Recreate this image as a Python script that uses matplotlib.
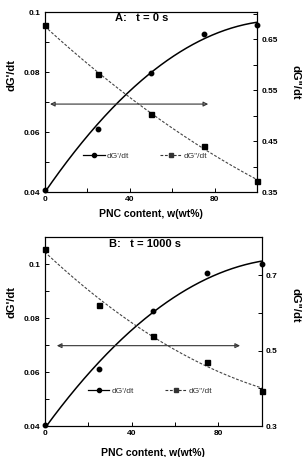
import numpy as np
import matplotlib
matplotlib.use('Agg')
import matplotlib.pyplot as plt

plt.rcParams['font.family'] = ['Liberation Sans', 'DejaVu Sans']

# PNC content (wt%)
w = [0, 25, 50, 75, 100]

# Panel A: t = 0 s
a_dGp = [0.0408, 0.0611, 0.0798, 0.0929, 0.0958]
a_dGpp = [0.678, 0.581, 0.504, 0.4415, 0.372]

# Panel B: t = 1000 s
b_dGp = [0.0404, 0.0610, 0.0826, 0.0969, 0.1000]
b_dGpp = [0.769, 0.621, 0.539, 0.470, 0.394]

xticks = [0, 40, 80]
xlabel = 'PNC content, w(wt%)'


def panel(rect, title, gp, gpp, ylim_l, yt_l, ytl_l, ymin_l,
          ylim_r, yt_r, ytl_r, ymin_r, arrow, leg_pos, title_pos,
          lab_l, lab_r, xpad):
    ax = fig.add_axes(rect)
    ax2 = ax.twinx()

    # quadratic trend lines through the points
    xs = np.linspace(0, 100, 200)
    c1 = np.polyfit(w, gp, 2)
    c2 = np.polyfit(w, gpp, 2)
    ax.plot(xs, np.polyval(c1, xs), color='black', lw=1.1)
    ax.plot(w, gp, 'o', color='black', ms=3.2, clip_on=False)
    ax2.plot(xs, np.polyval(c2, xs), color='#444444', lw=0.8,
             ls=(0, (2.5, 1.5)))
    ax2.plot(w, gpp, 's', color='black', ms=3.6, clip_on=False)

    # double-headed arrow
    ax.annotate('', xy=(arrow[0], arrow[2]), xytext=(arrow[1], arrow[2]),
                arrowprops=dict(arrowstyle='<|-|>', color='#333333', lw=0.8,
                                mutation_scale=7, shrinkA=0, shrinkB=0,
                                fill=False))

    # legend-like handles
    h1, = ax.plot([], [], '-o', color='black', lw=0.9, ms=3)
    h2, = ax.plot([], [], ls=(0, (2.5, 1.5)), marker='s', color='#333333',
                  lw=0.8, ms=3.4)
    leg = ax.legend([h1, h2], ["dG'/dt", 'dG"/dt'], loc='center',
                    bbox_to_anchor=leg_pos, ncol=2, frameon=False,
                    fontsize=6, handlelength=2.6, columnspacing=3.8,
                    handletextpad=0.2)
    for t in leg.get_texts():
        t.set_color('#333333')

    ax.set_xlim(0, 100)
    ax.set_xticks(xticks)
    ax.set_xticks([20, 60, 100], minor=True)
    ax.set_xticklabels([str(t) for t in xticks], fontsize=6, fontweight='bold')

    ax.set_ylim(*ylim_l)
    ax.set_yticks(yt_l)
    ax.set_yticklabels(ytl_l, fontsize=6, fontweight='bold')
    ax.set_yticks(ymin_l, minor=True)

    ax2.set_ylim(*ylim_r)
    ax2.set_yticks(yt_r)
    ax2.set_yticklabels(ytl_r, fontsize=6, fontweight='bold')
    ax2.set_yticks(ymin_r, minor=True)

    for a in (ax, ax2):
        a.tick_params(which='both', direction='in', length=3, width=0.7, pad=3)
        for s in a.spines.values():
            s.set_linewidth(0.8)

    ax.set_ylabel("dG'/dt", fontsize=8, fontweight='bold')
    ax.yaxis.set_label_coords(*lab_l)
    ax2.set_ylabel('dG"/dt', fontsize=8, fontweight='bold', rotation=270,
                   va='center')
    ax2.yaxis.set_label_coords(*lab_r)
    ax.set_xlabel(xlabel, fontsize=7.5, fontweight='bold', labelpad=xpad)
    ax.text(title_pos[0], title_pos[1], title, transform=ax.transAxes,
            ha='center', va='center', fontsize=8, fontweight='bold')


fig = plt.figure(figsize=(3.05, 4.57), dpi=100)

panel([0.1466, 0.5792, 0.696, 0.394], 'A:   t = 0 s', a_dGp, a_dGpp,
      (0.04, 0.1), [0.04, 0.06, 0.08, 0.1], ['0.04', '0.06', '0.08', '0.1'],
      [0.05, 0.07, 0.09],
      (0.35, 0.703), [0.35, 0.45, 0.55, 0.65], ['0.35', '0.45', '0.55', '0.65'],
      [0.4, 0.5, 0.6, 0.7],
      (2.5, 77, 0.0694), (0.473, 0.203), (0.457, 0.97),
      (-0.135, 0.65), (1.18, 0.61), 4)

panel([0.1466, 0.0678, 0.7115, 0.413], 'B:   t = 1000 s', b_dGp, b_dGpp,
      (0.04, 0.11), [0.04, 0.06, 0.08, 0.1], ['0.04', '0.06', '0.08', '0.1'],
      [0.05, 0.07, 0.09, 0.11],
      (0.3, 0.8), [0.3, 0.5, 0.7], ['0.3', '0.5', '0.7'],
      [0.4, 0.6, 0.8],
      (5.6, 90, 0.0698), (0.485, 0.185), (0.46, 0.962),
      (-0.132, 0.656), (1.155, 0.64), 8)

fig.savefig('out.png', dpi=100)
